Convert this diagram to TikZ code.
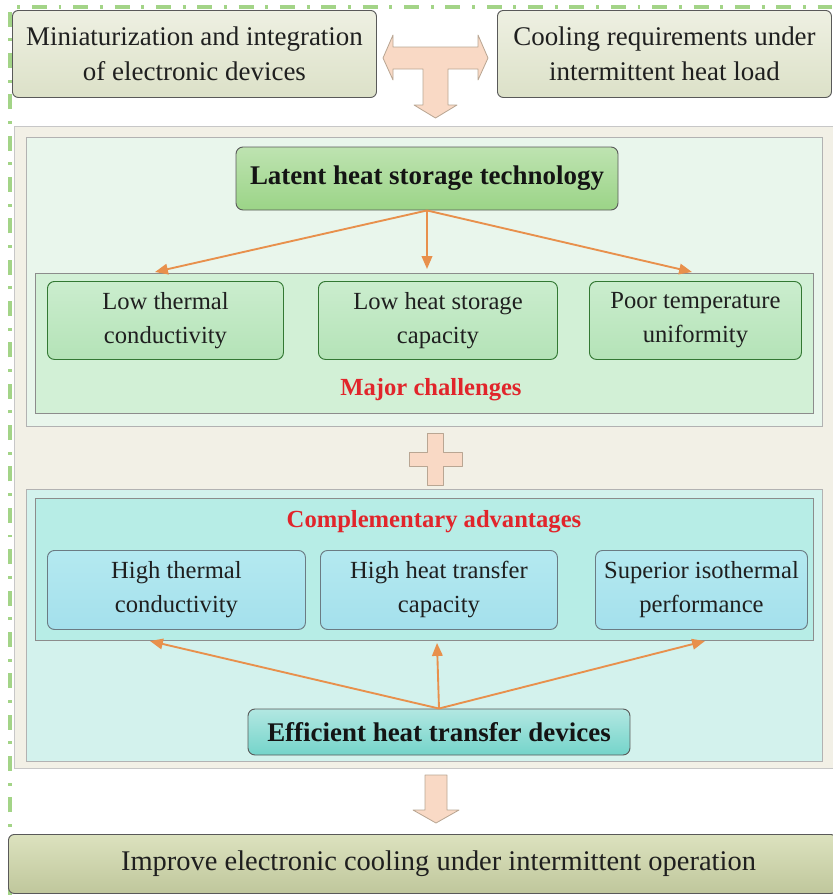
\documentclass[tikz,border=0pt]{standalone}
\usepackage{fontspec}
\setmainfont{Liberation Serif}
\usetikzlibrary{arrows.meta, positioning, calc}

\definecolor{framegreen}{HTML}{A3D487}
\definecolor{bodybeige}{HTML}{F2F0E6}
\definecolor{lightgreen}{HTML}{E9F6EC}
\definecolor{chalgreen}{HTML}{D2F0D6}
\definecolor{chaltop}{HTML}{CBEDCE}
\definecolor{chalbottom}{HTML}{B4E3B7}
\definecolor{lhsgreen}{HTML}{9BD487}
\definecolor{lightcyan}{HTML}{D3F2ED}
\definecolor{advcyan}{HTML}{B7EDE6}
\definecolor{advtop}{HTML}{B4E9F0}
\definecolor{advbottom}{HTML}{A4E0EC}
\definecolor{effteal}{HTML}{74D4CA}
\definecolor{peachfill}{HTML}{F9D9C5}
\definecolor{arroworange}{HTML}{E8904C}
\definecolor{labelred}{HTML}{E1252B}
\definecolor{topfill}{HTML}{EEF0E2}
\definecolor{topshade}{HTML}{DCE1C8}
\definecolor{olivebox}{HTML}{D0D8A9}

\newlength{\pxu}
\setlength{\pxu}{0.03cm}

\tikzset{
  sz/.style 2 args={minimum width=#1\pxu, minimum height=#2\pxu, inner sep=0pt, anchor=north west},
  boxtext/.style={align=center, text=black!88, font=\fontsize{21}{29}\selectfont},
  topbox/.style={draw=black!65, line width=0.8pt, rounded corners=5pt,
    top color=topfill, bottom color=topshade, boxtext,
    font=\fontsize{23}{30}\selectfont},
  chalbox/.style={draw=black!55!green!60!gray, line width=0.8pt, rounded corners=6pt,
    top color=chaltop, bottom color=chalbottom, boxtext},
  advbox/.style={draw=black!60!cyan!50!gray, line width=0.8pt, rounded corners=6pt,
    top color=advtop, bottom color=advbottom, boxtext},
  headbox/.style={line width=0.8pt, rounded corners=6pt, align=center, text=black!92,
    font=\bfseries\fontsize{23}{28}\selectfont},
  panel/.style={draw=black!25, line width=0.9pt, fill=#1},
  redlabel/.style={text=labelred, font=\bfseries\fontsize{21}{26}\selectfont},
  peach/.style={draw=black!40!brown!50, line width=0.7pt, fill=peachfill, line join=round},
  flow/.style={draw=arroworange, line width=1.6pt, -{Triangle[length=11pt, width=9pt]}},
}

\begin{document}
\begin{tikzpicture}[x={(0.03cm,0)}, y={(0,-0.03cm)}]
\useasboundingbox (0,0) rectangle (832,895);

% dashed frame on the left and top
\draw[framegreen, line width=3.4pt, dash pattern=on 12.8pt off 10pt on 2.5pt off 10pt]
  (10,895) -- (10,7) -- (832,7);

% the two driving needs
\node[topbox, sz={364}{87}] (mini) at (12,10) {Miniaturization and integration\\of electronic devices};
\node[topbox, sz={334}{87}] (cool) at (497,10) {Cooling requirements under\\intermittent heat load};

% T-shaped double arrow
\draw[peach] (383,58) -- (393,35) -- (393,47) -- (478,47) -- (478,35) -- (488,58)
  -- (478,80) -- (478,69) -- (448,69) -- (448,105) -- (457,105) -- (435.5,118)
  -- (414,105) -- (423,105) -- (423,69) -- (393,69) -- (393,80) -- cycle;

% body panel
\node[panel=bodybeige, draw=black!22, sz={822}{642}] (body) at (14,126) {};

% latent heat storage part
\node[panel=lightgreen, draw=black!30, sz={796}{289}] (lhspanel) at (26,137) {};
\node[panel=chalgreen, draw=black!45, sz={778}{140}] (chalframe) at (35,273) {};
\node[headbox, draw=black!65, top color=lhsgreen!65!white, bottom color=lhsgreen,
  sz={382}{63}, anchor=center] (lhs) at (427,178.5) {Latent heat storage technology};

\node[chalbox, sz={236}{78}] (lowk) at (47,281) {Low thermal\\conductivity};
\node[chalbox, sz={239}{78}] (lowcap) at (318,281) {Low heat storage\\capacity};
\node[chalbox, sz={212}{78}] (poorT) at (589,281) {Poor temperature\\uniformity};
\node[redlabel] (challenges) at (431,390) {Major challenges};

\coordinate (toL) at (155,272);
\coordinate (toM) at (427,269);
\coordinate (toR) at (692,272);
\draw[flow] (lhs.south) -- (toL);
\draw[flow] (lhs.south) -- (toM);
\draw[flow] (lhs.south) -- (toR);

% plus sign
\draw[peach] (427,433) -- (443,433) -- (443,452) -- (462,452) -- (462,466) -- (443,466)
  -- (443,485) -- (427,485) -- (427,466) -- (409,466) -- (409,452) -- (427,452) -- cycle;

% heat transfer devices part
\node[panel=lightcyan, draw=black!30, sz={796}{272}] (htdpanel) at (26,489) {};
\node[panel=advcyan, draw=black!45, sz={778}{142}] (advframe) at (35,498) {};
\node[redlabel] (advantages) at (434,522) {Complementary advantages};

\node[advbox, sz={258}{79}] (highk) at (47,550) {High thermal\\conductivity};
\node[advbox, sz={237}{79}] (highcap) at (320,550) {High heat transfer\\capacity};
\node[advbox, sz={212}{79}] (isoT) at (595,550) {Superior isothermal\\performance};

\node[headbox, draw=black!65, top color=effteal!55!white, bottom color=effteal,
  sz={382}{46}, anchor=center] (eff) at (439,732) {Efficient heat transfer devices};

\coordinate (fromL) at (150,641);
\coordinate (fromM) at (437,643);
\coordinate (fromR) at (705,641);
\draw[flow] (eff.north) -- (fromL);
\draw[flow] (eff.north) -- (fromM);
\draw[flow] (eff.north) -- (fromR);

% down arrow to the goal
\draw[peach] (425,775) -- (447,775) -- (447,810) -- (459,810) -- (436,823)
  -- (413,810) -- (425,810) -- cycle;

\node[topbox, top color=olivebox!75, bottom color=olivebox!92!black,
  font=\fontsize{24.3}{30}\selectfont, sz={828}{59}] (goal) at (8,834)
  {\hspace*{32\pxu}Improve electronic cooling under intermittent operation};
\end{tikzpicture}
\end{document}
